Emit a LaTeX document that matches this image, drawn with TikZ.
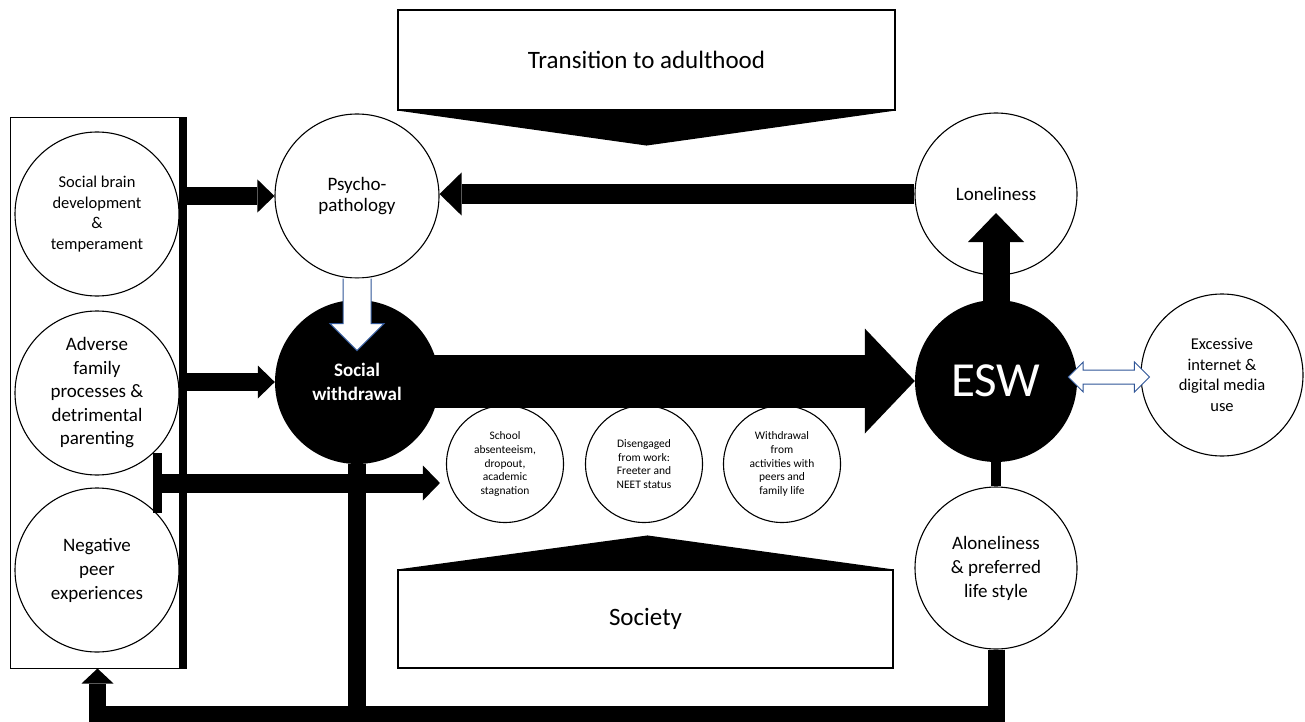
\documentclass[tikz,border=0pt]{standalone}
\usepackage{fontspec}
\setmainfont{Carlito}
\usetikzlibrary{positioning, arrows.meta, calc}
\definecolor{edgeblue}{RGB}{47,85,151}

\begin{document}
\begin{tikzpicture}[x=1pt, y=-1pt,
  factor/.style={draw, circle, line width=1.1pt, minimum size=164pt, inner sep=0pt, align=center, font=\fontsize{19}{24}\selectfont},
  outcome/.style={draw, circle, line width=1.1pt, minimum size=117pt, inner sep=0pt, align=center, font=\fontsize{11.5}{13.7}\selectfont},
  core/.style={circle, fill=black, minimum size=164pt, inner sep=0pt, align=center, text=white},
  context/.style={draw, line width=1.1pt, fill=white, inner sep=0pt, font=\fontsize{25}{30}\selectfont},
  hollow/.style={draw=edgeblue, line width=1pt, fill=white, line join=miter},
  blockarrow/.style={line width=#1, line join=miter}]
\useasboundingbox (0,0) rectangle (1305,722);

% context boxes
\node[context, minimum width=497pt, minimum height=100pt] (trans) at (646.5,60) {Transition to adulthood};
\fill (trans.south west) -- (trans.south east) -- ($(trans.south)+(0,35)$) -- cycle;
\node[context, minimum width=495pt, minimum height=98pt] (society) at (645.5,619) {Society};
\fill (society.north west) -- (society.north east) -- ($(society.north)+(2,-34)$) -- cycle;

% risk factors
\node[draw, line width=1pt, minimum width=175pt, minimum height=550pt, inner sep=0pt] (leftbox) at (97.5,393) {};
\node[factor, font=\fontsize{16.5}{20.5}\selectfont] (brain) at (97,214) {Social brain\\development\\\&\\temperament};
\node[factor, font=\fontsize{19}{23.5}\selectfont] (family) at (97,393) {Adverse\\family\\processes \&\\detrimental\\parenting};
\node[factor] (peer) at (97,570) {Negative\\peer\\experiences};
\draw[line width=8pt] ($(leftbox.north east)+(-3,0)$) -- ($(leftbox.south east)+(-3,0)$);

% main circles
\node[factor] (psycho) at (357,196) {\raisebox{-5pt}{\shortstack{Psycho-\\[1pt]pathology}}};
\node[core, font=\bfseries\fontsize{19}{24}\selectfont] (withdraw) at (357,382) {Social\\withdrawal};
\node[factor, minimum size=162pt] (lonely) at (996,194) {Loneliness};
\node[core, minimum size=162pt, font=\fontsize{49}{56}\selectfont] (esw) at (996,381) {ESW};
\node[factor, minimum size=162pt, font=\fontsize{16.5}{20.5}\selectfont] (internet) at (1222,375) {Excessive\\internet \&\\digital media\\use};
\node[factor, minimum size=162pt] (alone) at (996,568) {Aloneliness\\\& preferred\\life style};

% outcomes
\node[outcome] (school) at (505,464) {School\\absenteeism,\\dropout,\\academic\\stagnation};
\node[outcome] (work) at (644,464) {Disengaged\\from work:\\Freeter and\\NEET status};
\node[outcome] (activities) at (782,464) {Withdrawal\\from\\activities with\\peers and\\family life};

% arrows
\draw[blockarrow=18pt, -{Triangle[length=17pt, width=33pt, line width=0pt]}] (leftbox.east |- psycho.west) -- (psycho.west);
\draw[blockarrow=18pt, -{Triangle[length=17pt, width=33pt, line width=0pt]}] (leftbox.east |- withdraw.west) -- (withdraw.west);
\coordinate (tstart) at (157,483);
\draw[line width=9pt] ($(tstart)+(0,-30)$) -- ($(tstart)+(0,30)$);
\draw[blockarrow=19pt, shorten >=6pt, -{Triangle[length=17pt, width=35pt, line width=0pt]}] (tstart) -- (school.west |- tstart);
\draw[blockarrow=53pt, shorten <=-8pt, -{Triangle[length=50pt, width=105pt, line width=0pt]}] (withdraw.east |- esw.west) -- (esw.west);
\draw[blockarrow=20pt, -{Triangle[length=22pt, width=43pt, line width=0pt]}] (lonely.west) -- (psycho.east |- lonely.west);
\draw[blockarrow=27pt, shorten <=-6pt, -{Triangle[length=29pt, width=56pt, line width=0pt]}] (esw.north) -- ($(lonely.center)+(0,19)$);
\draw[line width=10pt] (esw.south) -- (alone.north);
\coordinate (bottomleft) at ($(leftbox.south)+(0,45.5)$);
\draw[blockarrow=18pt] (withdraw.south) -- (withdraw.south |- bottomleft);
\draw[blockarrow=17pt, -{Triangle[length=15pt, width=32pt, line width=0pt]}] (alone.south) |- (bottomleft) -- (leftbox.south);

% hollow arrows
\draw[hollow] ($(psycho.south)+(-14,0)$) -- ++(0,45) -- ++(-13,0) -- ($(psycho.south)+(0,72)$) -- ($(psycho.south)+(27,45)$) -- ++(-13,0) -- ($(psycho.south)+(14,0)$);
\coordinate (dl) at ($(esw.east)+(-9,-4)$);
\coordinate (dr) at ($(internet.west)+(9,2)$);
\draw[hollow] (dl) -- ++(15,-15) -- ++(0,8) -- ($(dr)+(-15,-7)$) -- ++(0,-8) -- (dr) -- ++(-15,15) -- ++(0,-8) -- ($(dl)+(15,7)$) -- ++(0,8) -- cycle;
\end{tikzpicture}
\end{document}
